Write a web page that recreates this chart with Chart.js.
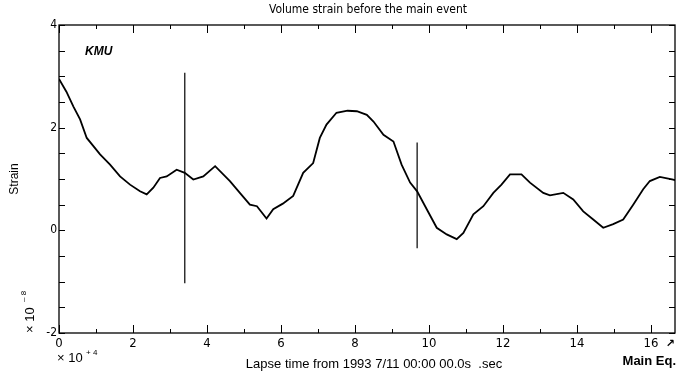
<!DOCTYPE html>
<html>
<head>
<meta charset="utf-8">
<script src="https://cdn.jsdelivr.net/npm/chart.js@4.4.1/dist/chart.umd.min.js"></script>
<style>
  html, body { margin: 0; padding: 0; background: #fff; }
  #wrap { width: 677px; height: 383px; }
</style>
</head>
<body>
<div id="wrap"><canvas id="myChart" width="677" height="383"></canvas></div>
<script>
// lapse time (x 10^4 s) and volume strain (x 10^-8)
var lapseTime = [0, 0.2, 0.39, 0.57, 0.75, 0.93, 1.11, 1.38, 1.65, 1.92,
  2.19, 2.37, 2.55, 2.73, 2.91, 3.18, 3.4, 3.63, 3.9, 4.22,
  4.62, 4.9, 5.16, 5.35, 5.61, 5.79, 6.05, 6.33, 6.6, 6.87,
  7.05, 7.23, 7.5, 7.8, 8.05, 8.32, 8.5, 8.77, 9.04, 9.26,
  9.49, 9.68, 9.94, 10.21, 10.48, 10.75, 10.93, 11.2, 11.47, 11.74,
  11.96, 12.19, 12.5, 12.73, 13.09, 13.27, 13.63, 13.9, 14.17, 14.44,
  14.71, 14.98, 15.25, 15.52, 15.79, 15.97, 16.24, 16.6, 16.65];
var strain = [2.95, 2.7, 2.41, 2.16, 1.8, 1.64, 1.48, 1.28, 1.05, 0.89,
  0.76, 0.7, 0.83, 1.02, 1.05, 1.18, 1.12, 0.99, 1.05, 1.25,
  0.96, 0.72, 0.5, 0.47, 0.23, 0.41, 0.52, 0.67, 1.12, 1.31,
  1.8, 2.06, 2.29, 2.33, 2.32, 2.25, 2.12, 1.86, 1.73, 1.28,
  0.93, 0.76, 0.41, 0.05, -0.08, -0.17, -0.05, 0.31, 0.47, 0.73,
  0.89, 1.09, 1.09, 0.93, 0.73, 0.68, 0.73, 0.6, 0.37, 0.21,
  0.05, 0.12, 0.21, 0.5, 0.8, 0.96, 1.04, 0.99, 0.97];

// the two vertical marks
var markTimes = [3.4, 9.68];
var markLow = [-1.03, -0.35];
var markHigh = [3.07, 1.71];

var xRange = [0, 16.65];
var yRange = [-2, 4];
var yLabels = [4, 2, 0, -2];

var points = lapseTime.map(function (t, i) { return { x: t, y: strain[i] }; });

var datasets = [{
  data: points,
  borderColor: "#000",
  borderWidth: 1.8,
  pointRadius: 0,
  tension: 0,
}];
markTimes.forEach(function (t, i) {
  datasets.push({
    data: [{ x: t, y: markLow[i] }, { x: t, y: markHigh[i] }],
    borderColor: "#000",
    borderWidth: 1.2,
    pointRadius: 0,
  });
});

// frame, inward ticks and the loose text of the plot
var framePlugin = {
  id: "frame",
  afterDraw: function (chart) {
    var ctx = chart.ctx, a = chart.chartArea;
    var xs = chart.scales.x, ys = chart.scales.y;
    ctx.save();
    ctx.strokeStyle = "#000";
    ctx.lineWidth = 1.3;
    ctx.strokeRect(a.left, a.top, a.right - a.left, a.bottom - a.top);
    ctx.lineWidth = 1;
    ctx.beginPath();
    xs.ticks.forEach(function (t) {
      var px = Math.round(xs.getPixelForValue(t.value)) + 0.5;
      var len = t.value % 2 === 0 ? 8 : 4;
      ctx.moveTo(px, a.bottom); ctx.lineTo(px, a.bottom - len);
      ctx.moveTo(px, a.top); ctx.lineTo(px, a.top + len);
    });
    ys.ticks.forEach(function (t) {
      var py = Math.round(ys.getPixelForValue(t.value)) + 0.5;
      ctx.moveTo(a.left, py); ctx.lineTo(a.left + 6, py);
      ctx.moveTo(a.right, py); ctx.lineTo(a.right - 6, py);
    });
    ctx.stroke();

    ctx.fillStyle = "#000";
    ctx.textBaseline = "middle";
    ctx.textAlign = "center";
    ctx.font = "12px 'DejaVu Sans Condensed', 'DejaVu Sans'";
    ctx.fillText("Volume strain before the main event", 368, 10);

    ctx.textAlign = "left";
    ctx.font = "italic bold 12px 'Liberation Sans'";
    ctx.fillText("KMU", 85, 52);

    ctx.font = "13px 'Liberation Sans'";
    ctx.textAlign = "center";
    ctx.fillText("Lapse time from 1993 7/11 00:00 00.0s  .sec", 374, 364);

    ctx.textAlign = "right";
    ctx.font = "bold 13px 'Liberation Sans'";
    ctx.fillText("Main Eq.", 676, 361);

    ctx.font = "bold 11px 'DejaVu Sans'";
    ctx.fillText("\u2197", 675, 344);

    ctx.textAlign = "left";
    ctx.font = "13px 'Liberation Sans'";
    ctx.fillText("\u00d7 10", 57, 358);
    ctx.font = "8px 'Liberation Sans'";
    ctx.fillText("+ 4", 86, 353);

    ctx.save();
    ctx.translate(15, 179);
    ctx.rotate(-Math.PI / 2);
    ctx.textAlign = "center";
    ctx.font = "12px 'Liberation Sans'";
    ctx.fillText("Strain", 0, 0);
    ctx.restore();

    ctx.save();
    ctx.translate(30, 333);
    ctx.rotate(-Math.PI / 2);
    ctx.textAlign = "left";
    ctx.font = "13px 'Liberation Sans'";
    ctx.fillText("\u00d7 10", 0, 0);
    ctx.font = "8px 'Liberation Sans'";
    ctx.fillText("\u2013 8", 31, -6);
    ctx.restore();
    ctx.restore();
  }
};

var ctx = document.getElementById("myChart").getContext("2d");
var myChart = new Chart(ctx, {
  type: "line",
  data: { datasets: datasets },
  options: {
    responsive: false,
    animation: false,
    layout: { padding: { left: 0, right: 2, top: 25, bottom: 0 } },
    plugins: { legend: { display: false }, tooltip: { enabled: false } },
    scales: {
      x: {
        type: "linear",
        min: xRange[0],
        max: xRange[1],
        border: { display: false },
        grid: { display: false, drawTicks: false },
        afterFit: function (s) { s.height = 50; },
        ticks: {
          stepSize: 1,
          includeBounds: false,
          autoSkip: false,
          maxRotation: 0,
          padding: 3,
          color: "#000",
          font: { family: "'DejaVu Sans Condensed', 'DejaVu Sans'", size: 13 },
          callback: function (v) { return v % 2 === 0 ? String(v) : ""; },
        },
      },
      y: {
        type: "linear",
        min: yRange[0],
        max: yRange[1],
        border: { display: false },
        grid: { display: false, drawTicks: false },
        afterFit: function (s) { s.width = 59; },
        ticks: {
          stepSize: 0.5,
          autoSkip: false,
          padding: 2,
          color: "#000",
          font: { family: "'DejaVu Sans Condensed', 'DejaVu Sans'", size: 12 },
          callback: function (v) { return yLabels.indexOf(v) >= 0 ? String(v) : ""; },
        },
      },
    },
  },
  plugins: [framePlugin],
});
</script>
</body>
</html>
